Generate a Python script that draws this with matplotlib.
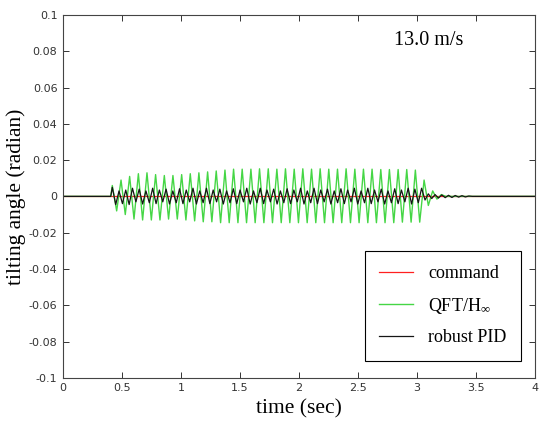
import numpy as np
import matplotlib
matplotlib.use("Agg")
import matplotlib.pyplot as plt
from matplotlib.ticker import FuncFormatter, MultipleLocator

# =============================================================================
# Data: times of the oscillation extrema and the values
# =============================================================================
# QFT/Hinf: times of the extrema (sec)
qft_t = [0.000, 0.405, 0.418,
         0.455, 0.492, 0.528, 0.565, 0.602, 0.639, 0.675, 0.712, 0.749, 0.785,
         0.822, 0.859, 0.895, 0.932, 0.969, 1.006, 1.042, 1.079, 1.116, 1.152,
         1.189, 1.226, 1.262, 1.299, 1.336, 1.373, 1.409, 1.446, 1.483, 1.519,
         1.556, 1.593, 1.629, 1.666, 1.703, 1.740, 1.776, 1.813, 1.850, 1.886,
         1.923, 1.960, 1.996, 2.033, 2.070, 2.107, 2.143, 2.180, 2.217, 2.253,
         2.290, 2.327, 2.363, 2.400, 2.437, 2.474, 2.510, 2.547, 2.584, 2.620,
         2.657, 2.694, 2.730, 2.767, 2.804, 2.841, 2.877, 2.914, 2.951, 2.987,
         3.024, 3.061, 3.097, 3.134, 3.170, 3.207, 3.245, 4.000]
# QFT/Hinf: values at the extrema (radian)
qft_y = [0.0, 0.0, 0.006,
         -0.008, 0.009, -0.010, 0.011, -0.0125, 0.0125, -0.013, 0.013, -0.013, 0.012,
         -0.013, 0.0115, -0.0125, 0.0115, -0.0125, 0.012, -0.013, 0.0125, -0.0135, 0.013,
         -0.014, 0.0135, -0.014, 0.014, -0.0145, 0.0145, -0.0145, 0.015, -0.0145, 0.015,
         -0.0145, 0.015, -0.0145, 0.0152, -0.0145, 0.0152, -0.0145, 0.015, -0.0145, 0.0152,
         -0.0145, 0.015, -0.0145, 0.0152, -0.0145, 0.015, -0.0145, 0.0152, -0.0145, 0.015,
         -0.0145, 0.015, -0.0145, 0.0152, -0.0145, 0.015, -0.0145, 0.015, -0.0145, 0.015,
         -0.0145, 0.0148, -0.0145, 0.0148, -0.0145, 0.0148, -0.0142, 0.0148, -0.0142, 0.0145,
         -0.0142, 0.009, -0.005, 0.003, -0.0015, 0.001, 0.0, 0.0]

# robust PID: times of the extrema (sec)
pid_t = [0.000, 0.405,
         0.418, 0.447, 0.475, 0.504, 0.532, 0.561, 0.589, 0.618, 0.646, 0.675,
         0.703, 0.732, 0.760, 0.789, 0.817, 0.846, 0.874, 0.903, 0.931, 0.960,
         0.988, 1.017, 1.045, 1.074, 1.102, 1.131, 1.159, 1.188, 1.216, 1.245,
         1.273, 1.302, 1.330, 1.359, 1.387, 1.416, 1.444, 1.473, 1.501, 1.530,
         1.558, 1.587, 1.615, 1.644, 1.672, 1.701, 1.729, 1.758, 1.786, 1.815,
         1.843, 1.872, 1.900, 1.929, 1.957, 1.986, 2.014, 2.043, 2.071, 2.100,
         2.128, 2.157, 2.185, 2.214, 2.242, 2.271, 2.299, 2.328, 2.356, 2.385,
         2.413, 2.442, 2.470, 2.499, 2.527, 2.556, 2.584, 2.613, 2.641, 2.670,
         2.698, 2.727, 2.755, 2.784, 2.812, 2.841, 2.869, 2.898, 2.926, 2.955,
         2.983, 3.012, 3.040,
         3.069, 3.097, 3.126, 3.154, 3.183, 3.211, 3.240, 3.268, 3.297, 3.325,
         3.354, 3.382, 3.411, 3.440, 3.470, 4.000]
# robust PID: values at the extrema (radian)
pid_y = [0.0, 0.0,
         0.005, -0.0045, 0.003, -0.004, 0.0035, -0.0045, 0.0045, -0.003, 0.004, -0.0042,
         0.003, -0.0035, 0.0045, -0.004, 0.0035, -0.003, 0.004, -0.0042, 0.003, -0.0035,
         0.0042, -0.004, 0.0035, -0.003, 0.0045, -0.0042, 0.003, -0.0035, 0.0045, -0.004,
         0.0035, -0.003, 0.004, -0.0042, 0.003, -0.0035, 0.0042, -0.004, 0.0035, -0.003,
         0.0045, -0.0042, 0.003, -0.0035, 0.0045, -0.004, 0.0035, -0.003, 0.004, -0.0042,
         0.003, -0.0035, 0.0042, -0.004, 0.0035, -0.003, 0.0045, -0.0042, 0.003, -0.0035,
         0.0045, -0.004, 0.0035, -0.003, 0.004, -0.0042, 0.003, -0.0035, 0.0042, -0.004,
         0.0035, -0.003, 0.0045, -0.0042, 0.003, -0.0035, 0.0045, -0.004, 0.0035, -0.003,
         0.004, -0.0042, 0.003, -0.0035, 0.0042, -0.004, 0.0035, -0.003, 0.0045, -0.0042,
         0.004, -0.0035, 0.0045,
         -0.002, 0.0014, -0.0012, 0.001, -0.0009, 0.0008, -0.0007, 0.0006, -0.0006, 0.0005,
         -0.0004, 0.0004, -0.0003, 0.0002, 0.0, 0.0]

# command signal
cmd_t = [0.0, 4.0]
cmd_y = [0.0, 0.0]

# =============================================================================
# Plot
# =============================================================================
plt.rcParams['mathtext.fontset'] = 'custom'
plt.rcParams['mathtext.rm'] = 'Liberation Serif'
plt.rcParams['mathtext.it'] = 'Liberation Serif:italic'

fig = plt.figure(figsize=(5.43, 4.26), dpi=100)
ax = fig.add_axes([0.116, 0.113, 0.869, 0.852])

ax.plot(cmd_t, cmd_y, color='#ff2020', lw=0.9, label='command')
ax.plot(qft_t, qft_y, color='#45d645', lw=1.0, label='QFT/H$_\\infty$')
ax.plot(pid_t, pid_y, color='#151515', lw=0.9, label='robust PID')

ax.set_xlim(0, 4)
ax.set_ylim(-0.1, 0.1)
ax.xaxis.set_major_locator(MultipleLocator(0.5))
ax.yaxis.set_major_locator(MultipleLocator(0.02))
# MATLAB style labels, no "-0"
fmt = FuncFormatter(lambda v, p: '%g' % (round(v, 6) + 0.0))
ax.xaxis.set_major_formatter(fmt)
ax.yaxis.set_major_formatter(fmt)
ax.tick_params(direction='in', length=4, width=0.7, top=True, right=True,
               labelsize=8, colors='#333333', pad=4)
for lab in ax.get_xticklabels() + ax.get_yticklabels():
    lab.set_family(['Liberation Sans Narrow', 'DejaVu Sans'])
for s in ax.spines.values():
    s.set_color('#444444')
    s.set_linewidth(0.8)

ax.set_xlabel('time (sec)', family='Liberation Serif', fontsize=15.5, labelpad=4)
ax.set_ylabel('tilting angle (radian)', family='Liberation Serif', fontsize=15.5, labelpad=2)

ax.text(2.81, 0.086, '13.0 m/s', family='Liberation Serif', fontsize=14.5, va='center')

leg = ax.legend(loc='lower right', bbox_to_anchor=(0.970, 0.047), borderaxespad=0,
                prop={'family': 'Liberation Serif', 'size': 13}, fancybox=False,
                edgecolor='black', framealpha=1, handlelength=1.9, handletextpad=0.8,
                labelspacing=0.75, borderpad=0.8)
leg.get_frame().set_linewidth(0.8)

plt.savefig('out.png', dpi=100)
